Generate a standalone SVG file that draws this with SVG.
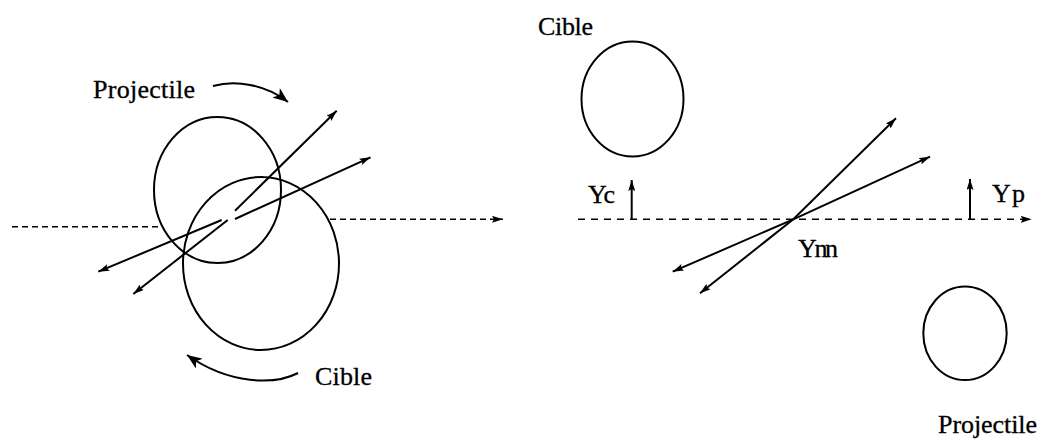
<svg xmlns="http://www.w3.org/2000/svg" width="1043" height="439" viewBox="0 0 1043 439">
<style>
.ln{fill:none;stroke:#000;stroke-width:2}
.dash{fill:none;stroke:#000;stroke-width:1.6;stroke-dasharray:6 4}
.dash2{fill:none;stroke:#000;stroke-width:1.6;stroke-dasharray:7 6}
.t{font-family:'Liberation Serif','DejaVu Serif',serif;font-size:26px;fill:#000;stroke:#000;stroke-width:0.3}
</style>
<defs>
<marker id="ah" viewBox="0 0 11 7" refX="11" refY="3.5" markerWidth="11" markerHeight="7" markerUnits="userSpaceOnUse" orient="auto-start-reverse">
<path d="M0,0 L11,3.5 L0,7 L2,3.5 z" fill="#000"/>
</marker>
<marker id="barb" viewBox="0 0 16 12" refX="15" refY="6" markerWidth="16" markerHeight="12" markerUnits="userSpaceOnUse" orient="auto">
<path d="M0,0 L15,6 L0,12 L4,6 z" fill="#000"/>
</marker>
</defs>

<g id="left-panel">
  <g id="projectile-left">
    <ellipse class="ln" cx="217.5" cy="190" rx="63.5" ry="73"/>
    <text class="t" x="93" y="98" textLength="102">Projectile</text>
  </g>
  <g id="cible-left">
    <ellipse class="ln" cx="261" cy="263.5" rx="78" ry="86.5"/>
    <text class="t" x="315" y="385" textLength="57">Cible</text>
  </g>
</g>

<g id="right-panel">
  <g id="cible-right">
    <ellipse class="ln" cx="632.5" cy="99" rx="51" ry="57.5"/>
    <text class="t" x="538" y="35" textLength="55">Cible</text>
  </g>
  <g id="projectile-right">
    <ellipse class="ln" cx="965" cy="333.3" rx="41.7" ry="46.7"/>
    <text class="t" x="938" y="433" textLength="99">Projectile</text>
  </g>
  <g id="labels">
    <text class="t" x="588" y="203" textLength="27">Yc</text>
    <text class="t" x="992" y="201.5" textLength="33">Yp</text>
    <text class="t" x="798" y="256.5" textLength="40">Ynn</text>
  </g>
</g>

<g id="connectors">
  <line class="dash" x1="12" y1="226.7" x2="158" y2="226.7"/>
  <line class="dash" x1="330" y1="219.3" x2="503" y2="219.3" marker-end="url(#ah)"/>
  <line class="ln" x1="227.7" y1="220" x2="133.3" y2="294" marker-end="url(#ah)"/>
  <line class="ln" x1="235" y1="210.7" x2="336.7" y2="110.7" marker-end="url(#ah)"/>
  <line class="ln" x1="221.7" y1="220" x2="98.3" y2="271.7" marker-end="url(#ah)"/>
  <line class="ln" x1="235" y1="219" x2="370.5" y2="157.3" marker-end="url(#ah)"/>
  <path class="ln" d="M213,86 C235,80 265,84 288,102" marker-end="url(#barb)"/>
  <path class="ln" d="M298,373 C275,385 230,385 187,355" marker-end="url(#barb)"/>
  <line class="dash2" x1="578" y1="219.3" x2="1031.7" y2="219.3" marker-end="url(#ah)"/>
  <line class="ln" x1="631.7" y1="219.3" x2="631.7" y2="180" marker-end="url(#ah)"/>
  <line class="ln" x1="970" y1="219.3" x2="970" y2="179" marker-end="url(#ah)"/>
  <path class="ln" d="M700,293.3 L793.3,219.3 L896,118.3" marker-start="url(#ah)" marker-end="url(#ah)"/>
  <path class="ln" d="M672.7,271.7 L793.3,219.3 L930,156.7" marker-start="url(#ah)" marker-end="url(#ah)"/>
</g>
</svg>
